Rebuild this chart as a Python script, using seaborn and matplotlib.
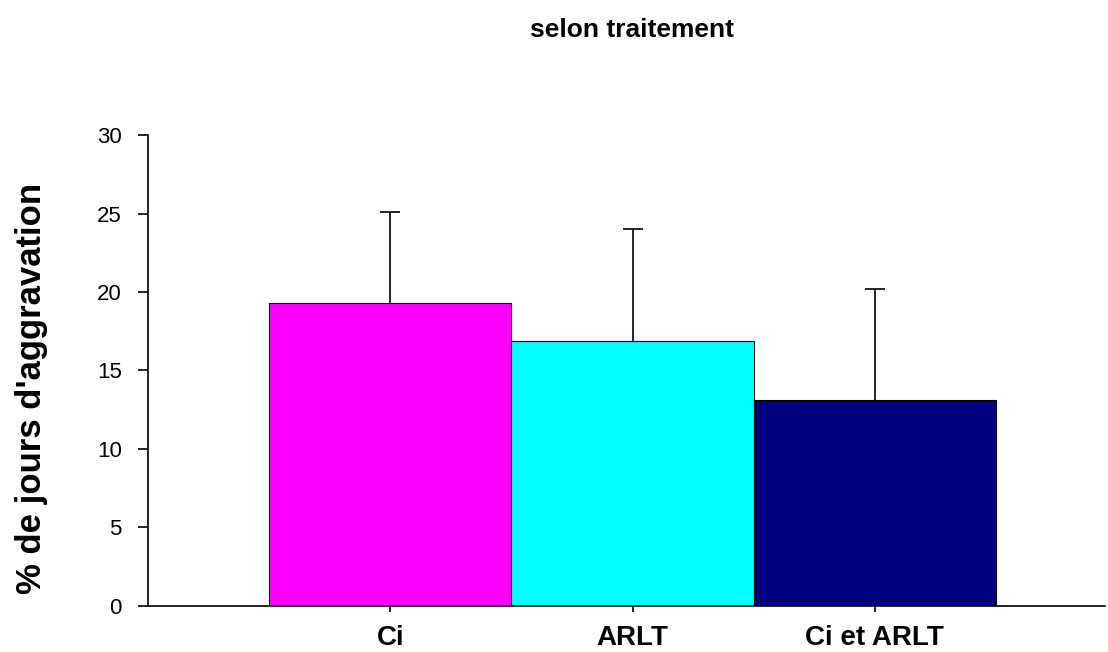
import matplotlib
matplotlib.use("Agg")
import matplotlib.pyplot as plt
from matplotlib import font_manager
import seaborn as sns
import pandas as pd

categories = ["Ci", "ARLT", "Ci et ARLT"]
means = [19.3, 16.9, 13.1]
upper_err = [5.8, 7.1, 7.1]
bar_colors = ["#FF00FF", "#00FFFF", "#000080"]
y_ticks = [0, 5, 10, 15, 20, 25, 30]

sns.set_style("ticks")
plt.rcParams["font.family"] = ["Liberation Sans", "DejaVu Sans"]
plt.rcParams["text.color"] = "black"

names = {f.name for f in font_manager.fontManager.ttflist}
if "Liberation Sans Narrow" in names:
    ylab_font, ylab_size = "Liberation Sans Narrow", 30
else:
    ylab_font, ylab_size = "Liberation Sans", 25

df = pd.DataFrame({"traitement": categories, "valeur": means})

fig = plt.figure(figsize=(11.08, 6.52), dpi=100)
ax = fig.add_axes([0.1336, 0.0713, 0.8637, 0.7209])

sns.barplot(data=df, x="traitement", y="valeur", hue="traitement",
            palette=bar_colors, width=1.0, edgecolor="black", linewidth=0.8,
            saturation=1, legend=False, ax=ax)
_, caps, _ = ax.errorbar(range(len(categories)), means,
                         yerr=[[0] * len(means), upper_err],
                         fmt="none", ecolor="black", elinewidth=1.2,
                         capsize=7, capthick=1.2)
# only the upper half of the error bar is shown
caps[0].remove()

ax.set_xlim(-1.0, 2.95)
ax.set_ylim(0, 30)
ax.set_yticks(y_ticks)
ax.spines["top"].set_visible(False)
ax.spines["right"].set_visible(False)
ax.spines["left"].set_bounds(0, 30)
for s in ["left", "bottom"]:
    ax.spines[s].set_linewidth(1.2)
    ax.spines[s].set_color("black")

ax.tick_params(axis="y", direction="out", length=7, width=1.2, pad=12,
               labelsize=16, colors="black")
ax.tick_params(axis="x", direction="out", length=4, width=1.2, pad=10,
               labelsize=20, colors="black")
for lab in ax.get_xticklabels():
    lab.set_fontweight("bold")

ax.set_xlabel("")
ax.set_ylabel("")
fig.text(32 / 1108, 1 - 388 / 652, "% de jours d'aggravation", rotation=90,
         ha="center", va="center", fontsize=ylab_size, fontweight="bold",
         color="black", family=[ylab_font, "DejaVu Sans"])
fig.text(632 / 1108, 1 - 30 / 652, "selon traitement", ha="center",
         va="center", fontsize=19, fontweight="bold", color="black")

fig.savefig("out.png", dpi=100)
